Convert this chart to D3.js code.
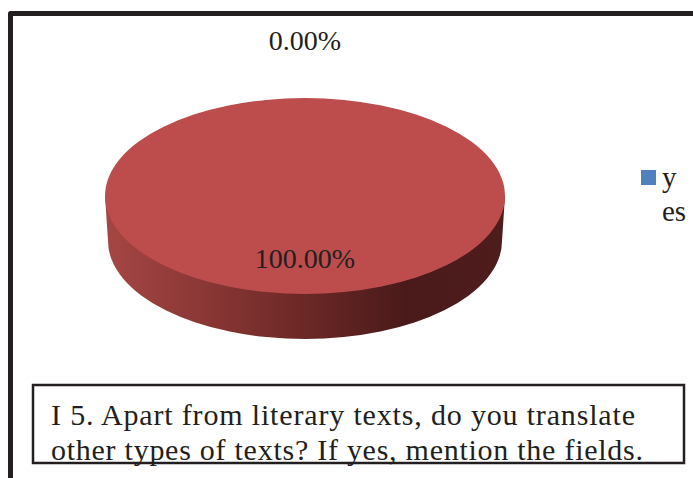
<!DOCTYPE html>
<html>
<head>
<meta charset="utf-8">
<script src="https://cdn.jsdelivr.net/npm/d3@7/dist/d3.min.js"></script>
<style>
    html, body { margin: 0; padding: 0; background: #fff; }
    svg { display: block; }
    text { font-family: "Liberation Serif", serif; fill: #231f20; }
</style>
</head>
<body>
<div id="chart"></div>
<script>
var categories = ["yes", "no"];
var values = [0, 100];
var valueLabels = ["0.00%", "100.00%"];
var legendLines = ["y", "es"];
var questionLines = [
    "I 5. Apart from literary texts, do you translate",
    "other types of texts? If yes, mention the fields."
];
var sliceColors = ["#4f81bd", "#bc4d4c"];
var sideStops = ["#a54644", "#8a3735", "#6b2826", "#4a1a1a", "#4f1c1c"];

var width = 693, height = 478;
var ink = "#231f20";

var svg = d3.select("#chart").append("svg")
        .attr("width", width)
        .attr("height", height);

// frame, runs off the right and bottom of the page
svg.append("path")
        .attr("d", "M 10.5 " + height + " L 10.5 13.5 L " + width + " 13.5")
        .attr("fill", "none")
        .attr("stroke", ink)
        .attr("stroke-width", 5)
        .attr("stroke-linejoin", "round");

// pie
var cx = 305, cy = 196, rx = 200, ry = 98;
var depth = 45, rxBottom = 197;

var defs = svg.append("defs");
var gradient = defs.append("linearGradient")
        .attr("id", "side")
        .attr("gradientUnits", "userSpaceOnUse")
        .attr("x1", cx - rx).attr("x2", cx + rx)
        .attr("y1", 0).attr("y2", 0);
var stopScale = d3.scaleLinear().domain([0, sideStops.length - 1]).range([0, 100]);
sideStops.forEach(function (c, i) {
    gradient.append("stop")
            .attr("offset", stopScale(i) + "%")
            .attr("stop-color", c);
});

var pie = d3.pie().sort(null);
var slices = pie(values);
var arc = d3.arc().innerRadius(0).outerRadius(rx);
var labelArc = function (r) {
    return d3.arc().innerRadius(r).outerRadius(r);
};

// side wall: bottom ellipse plus the band up to the top ellipse, used as a clip
// so one gradient runs across both
var sideClip = defs.append("clipPath").attr("id", "sideClip");
sideClip.append("path")
        .attr("d", "M " + (cx - rx) + " " + cy + " L " + (cx - rxBottom) + " " + (cy + depth)
                + " L " + (cx + rxBottom) + " " + (cy + depth) + " L " + (cx + rx) + " " + cy + " Z");
sideClip.append("path")
        .attr("d", arc(slices[1]))
        .attr("transform", "translate(" + cx + "," + (cy + depth) + ") scale(" + (rxBottom / rx) + "," + (ry / rx) + ")");
svg.append("rect")
        .attr("x", cx - rx).attr("y", cy)
        .attr("width", 2 * rx).attr("height", ry + depth + 2)
        .attr("fill", "url(#side)")
        .attr("clip-path", "url(#sideClip)");

// top face
svg.selectAll("path.top")
        .data(slices)
        .enter().append("path")
        .classed("top", true)
        .attr("d", arc)
        .attr("transform", "translate(" + cx + "," + cy + ") scale(1," + (ry / rx) + ")")
        .attr("fill", function (d, i) {
            return sliceColors[i];
        });

// data labels
var labelRadius = [1.58, 0.64];
svg.selectAll("text.value")
        .data(slices)
        .enter().append("text")
        .classed("value", true)
        .attr("x", function (d, i) {
            return cx + labelArc(rx * labelRadius[i]).centroid(d)[0];
        })
        .attr("y", function (d, i) {
            return cy + labelArc(rx * labelRadius[i]).centroid(d)[1] * ry / rx;
        })
        .attr("dy", "0.32em")
        .attr("text-anchor", "middle")
        .attr("font-size", 28)
        .text(function (d, i) {
            return valueLabels[i];
        });

// legend, the label wraps in the middle of the word
svg.append("rect")
        .attr("x", 641).attr("y", 170)
        .attr("width", 15).attr("height", 15)
        .attr("fill", sliceColors[categories.indexOf("yes")]);
svg.selectAll("text.legend")
        .data(legendLines)
        .enter().append("text")
        .classed("legend", true)
        .attr("x", 662)
        .attr("y", function (d, i) {
            return 187 + i * 34;
        })
        .attr("font-size", 29)
        .text(function (d) {
            return d;
        });

// question box
svg.append("rect")
        .attr("x", 33).attr("y", 385)
        .attr("width", 651).attr("height", 78)
        .attr("fill", "none")
        .attr("stroke", ink)
        .attr("stroke-width", 2.5);
svg.selectAll("text.question")
        .data(questionLines)
        .enter().append("text")
        .classed("question", true)
        .attr("x", 51)
        .attr("y", function (d, i) {
            return 425 + i * 35;
        })
        .attr("font-size", 30)
        .attr("textLength", function (d, i) {
            return i === 0 ? 584 : 592;
        })
        .text(function (d) {
            return d;
        });
</script>
</body>
</html>
